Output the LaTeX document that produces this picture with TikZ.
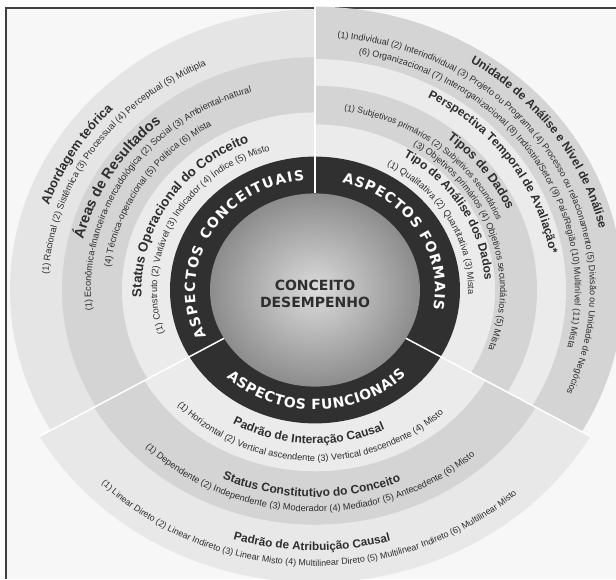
\documentclass[tikz,border=0pt]{standalone}
\usepackage{fontspec}
\setmainfont{Liberation Sans}
\newfontfamily\ringfont{DejaVu Sans}
\usetikzlibrary{decorations.text}

\colorlet{bandlight}{black!8}
\colorlet{banddark}{black!17}
\colorlet{labeltext}{black!82}

\newcommand\titlefont[1]{\bfseries\fontsize{#1}{#1}\selectfont}
\newcommand\listfont[1][9.2]{\fontsize{#1}{10}\selectfont}

% part of a ring sector: start angle, end angle, radius, colour
\newcommand\sectorband[4]{%
  \fill[#4] (0,0) -- ({cos(#1)*#3},{0.92*sin(#1)*#3})
    arc[start angle=#1, end angle=#2, x radius=#3, y radius=0.92*#3] -- cycle;}

% text along an arc: radius, middle angle, font, text
\newcommand\cwtext[4]{%
  \path[decorate, decoration={text along path, text align=center,
      text={|#3\color{labeltext}|#4}}]
    ({cos(#2+65)*#1},{0.92*sin(#2+65)*#1})
    arc[start angle=#2+65, end angle=#2-65, x radius=#1, y radius=0.92*#1];}
\newcommand\ccwtext[4]{%
  \path[decorate, decoration={text along path, text align=center,
      text={|#3\color{labeltext}|#4}}]
    ({cos(#2-65)*#1},{0.92*sin(#2-65)*#1})
    arc[start angle=#2-65, end angle=#2+65, x radius=#1, y radius=0.92*#1];}

\begin{document}
\begin{tikzpicture}[x=1pt, y=1pt]
  \useasboundingbox (-315,-289) rectangle (301,290);
  \clip (-315,-289) rectangle (301,290);
  \fill[black!3] (-309,-289) rectangle (301,282);
  \draw[black!75, line width=1.2] (-309,-289) -- (-309,282) -- (301,282);

  % functional (bottom)
  \sectorband{210}{330}{318}{black!9}
  \sectorband{210}{330}{255}{banddark}
  \sectorband{210}{330}{197}{bandlight}
  % conceptual (left)
  \sectorband{90}{210}{305}{black!10}
  \sectorband{90}{210}{253}{banddark}
  \sectorband{90}{210}{193}{bandlight}
  % formal (right)
  \sectorband{-30}{90}{308}{banddark}
  \sectorband{-30}{90}{251}{bandlight}
  \sectorband{-30}{90}{222}{banddark}
  \sectorband{-30}{90}{180}{bandlight}

  \fill[black!81] (0,0) ellipse [x radius=145, y radius=133.4];
  \shade[inner color=black!14, outer color=black!45] (0,0) ellipse [x radius=105, y radius=96.6];
  \foreach \a in {90,210,330}
    \draw[white, line width=1.5] ({cos(\a)*105},{0.92*sin(\a)*105}) -- ({cos(\a)*318},{0.92*sin(\a)*318});

  \node[font=\ringfont\bfseries\fontsize{14}{17}\selectfont, text=labeltext, align=center]
    (conceito) at (0,-3.5) {CONCEITO\\DESEMPENHO};

  \path[decorate, decoration={text along path, text align=fit to path,
      text={|\ringfont\bfseries\fontsize{14}{14}\selectfont\color{white}|ASPECTOS CONCEITUAIS}}]
    ({cos(205)*120},{0.92*sin(205)*120}) arc[start angle=205, end angle=95, x radius=120, y radius=110.4];
  \path[decorate, decoration={text along path, text align=fit to path,
      text={|\ringfont\bfseries\fontsize{14}{14}\selectfont\color{white}|ASPECTOS FORMAIS}}]
    ({cos(77)*120},{0.92*sin(77)*120}) arc[start angle=77, end angle=-10, x radius=120, y radius=110.4];
  \path[decorate, decoration={text along path, text align=fit to path,
      text={|\ringfont\bfseries\fontsize{14}{14}\selectfont\color{white}|ASPECTOS FUNCIONAIS}}]
    ({cos(227)*130},{0.92*sin(227)*130}) arc[start angle=227, end angle=314.5, x radius=130, y radius=119.6];

  % conceptual
  \cwtext{281.5}{150}{\titlefont{12.8}}{Abordagem teórica}
  \cwtext{267}{146.5}{\listfont}{(1) Racional (2) Sistêmica (3) Processual (4) Perceptual (5) Múltipla}
  \cwtext{238}{150}{\titlefont{14.5}}{Áreas de Resultados}
  \cwtext{224}{147}{\listfont}{(1) Econômica-financeira-mercadológica (2) Social (3) Ambiental-natural}
  \cwtext{206}{148}{\listfont}{(4) Técnica-operacional (5) Política (6) Mista}
  \cwtext{173.5}{148.5}{\titlefont{13.3}}{Status Operacional do Conceito}
  \cwtext{158}{152.5}{\listfont}{(1) Construto (2) Variável (3) Indicador (4) Índice (5) Misto}

  % formal
  \cwtext{292}{34}{\titlefont{12}}{Unidade de Análise e Nível de Análise}
  \cwtext{275}{30.4}{\listfont[9]}{(1) Individual (2) Interindividual (3) Projeto ou Programa (4) Processo ou relacionamento (5) Divisão ou Unidade de Negócios}
  \cwtext{260}{32.6}{\listfont[9]}{(6) Organizacional (7) Interorganizacional (8) Indústria/Setor (9) País/Região (10) Multinível (11) Mista}
  \cwtext{238}{34.2}{\titlefont{12}}{Perspectiva Temporal de Avaliação*}
  \cwtext{211}{36}{\titlefont{12.7}}{Tipos de Dados}
  \cwtext{197}{50.7}{\listfont[8.7]}{(1) Subjetivos primários (2) Subjetivos secundários}
  \cwtext{185}{18.2}{\listfont}{(3) Objetivos primários (4) Objetivos secundários (5) Mista}
  \cwtext{170}{29.8}{\titlefont{12.1}}{Tipo de Análise dos Dados}
  \cwtext{153}{29}{\listfont}{(1) Qualitativa (2) Quantitativa (3) Mista}

  % functional
  \ccwtext{167}{267.5}{\titlefont{12}}{Padrão de Interação Causal}
  \ccwtext{186}{268}{\listfont}{(1) Horizontal (2) Vertical ascendente (3) Vertical descendente (4) Misto}
  \ccwtext{225}{269}{\titlefont{12}}{Status Constitutivo do Conceito}
  \ccwtext{241}{268.4}{\listfont}{(1) Dependente (2) Independente (3) Moderador (4) Mediador (5) Antecedente (6) Misto}
  \ccwtext{283}{269.3}{\titlefont{11.7}}{Padrão de Atribuição Causal}
  \ccwtext{300}{268.4}{\listfont[8.9]}{(1) Linear Direto (2) Linear Indireto (3) Linear Misto (4) Multilinear Direto (5) Multilinear Indireto (6) Multilinear Misto}
\end{tikzpicture}
\end{document}
